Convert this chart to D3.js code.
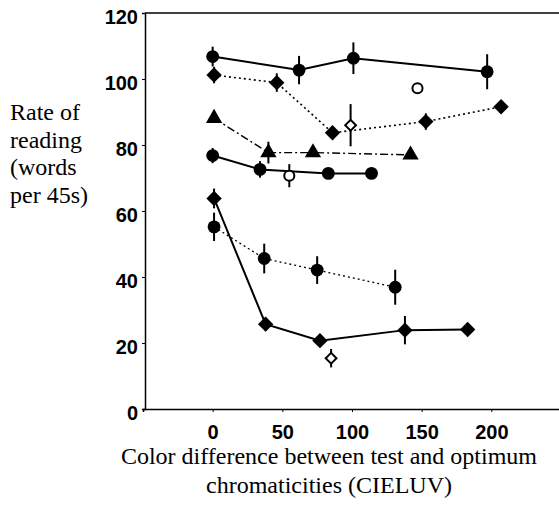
<!DOCTYPE html>
<html>
<head>
<meta charset="utf-8">
<script src="https://cdn.jsdelivr.net/npm/d3@7"></script>
<style>
  body { margin: 0; background: #fff; }
  .tick text { font-family: "Liberation Sans", Arial, sans-serif; font-weight: bold; font-size: 20px; fill: #000; }
  .title { font-family: "Liberation Serif", "Times New Roman", serif; font-size: 24px; fill: #000; }
</style>
</head>
<body>
<div id="chart"></div>
<script>
// chart size
var svgWidth = 559;
var svgHeight = 507;

// tick values
var xTicks = [0, 50, 100, 150, 200];
var yTicks = [0, 20, 40, 60, 80, 100, 120];

// series: [x, y, error]
var topCircles = [[0, 106.8, 3], [62, 102.7, 4.3], [101, 106.3, 4.8], [197, 102.2, 5.3]];
var topDiamonds = [[1, 101.2, 2.5], [46, 98.9, 2.8], [86, 83.7, 0], [153, 87.1, 2.5], [207, 91.6, 0]];
var triangles = [[1, 88.1, 0], [40, 77.7, 3.3], [72, 77.7, 0], [142, 77, 0]];
var midCircles = [[0, 76.8, 2.3], [34, 72.6, 2.5], [83, 71.4, 0], [114, 71.4, 0]];
var lowCircles = [[1, 55.2, 4.3], [37, 45.6, 4.5], [75, 42.1, 4.2], [131, 36.9, 5.3]];
var lowDiamonds = [[1, 63.8, 3], [38, 25.7, 2], [77, 20.7, 0], [138, 23.9, 4.3], [183, 24.1, 0]];

// open (unconnected) markers
var openDiamonds = [[99, 86, 6.4], [85, 15.4, 2.8]];
var openCircles = [[147, 97.2, 0], [55, 70.7, 3.5]];

var svg = d3.select("#chart")
  .append("svg")
  .attr("width", svgWidth)
  .attr("height", svgHeight);

var x = d3.scaleLinear().domain([-50, 250]).range([143, 561]);
var y = d3.scaleLinear().domain([0, 120]).range([409, 13]);

// frame (top edge)
svg.append("line")
  .attr("x1", x(-50) + 2).attr("x2", svgWidth)
  .attr("y1", y(120)).attr("y2", y(120))
  .attr("stroke", "#000").attr("stroke-width", 1.5);

// axes
var yAxis = svg.append("g")
  .attr("transform", `translate(${x(-50) + 2}, 0)`)
  .call(d3.axisLeft(y).tickValues(yTicks).tickSize(3).tickPadding(4));

var xAxis = svg.append("g")
  .attr("transform", `translate(0, ${y(0)})`)
  .call(d3.axisBottom(x).tickValues(xTicks).tickSize(3).tickPadding(13));

[xAxis, yAxis].forEach(function(a) {
  a.select(".domain").attr("stroke", "#000").attr("stroke-width", 1.5);
  a.selectAll(".tick line").attr("stroke", "#000");
});
yAxis.selectAll(".tick text").attr("dy", "0.5em");

var line = d3.line().x(d => x(d[0])).y(d => y(d[1]));

function drawErrors(data) {
  svg.append("g").selectAll("line")
    .data(data.filter(d => d[2] > 0))
    .enter()
    .append("line")
    .attr("x1", d => x(d[0])).attr("x2", d => x(d[0]))
    .attr("y1", d => y(d[1] + d[2])).attr("y2", d => y(d[1] - d[2]))
    .attr("stroke", "#000").attr("stroke-width", 2);
}

// square diamond = square rotated 45 degrees
function drawSeries(data, dash, width, symbol, size, open, rot) {
  if (dash !== null) {
    svg.append("path")
      .datum(data)
      .attr("d", line)
      .attr("fill", "none")
      .attr("stroke", "#000")
      .attr("stroke-width", width)
      .attr("stroke-dasharray", dash);
  }
  drawErrors(data);
  svg.append("g").selectAll("path")
    .data(data)
    .enter()
    .append("path")
    .attr("transform", d => `translate(${x(d[0])}, ${y(d[1])}) rotate(${rot || 0})`)
    .attr("d", d3.symbol().type(symbol).size(size))
    .attr("fill", open ? "#fff" : "#000")
    .attr("stroke", "#000")
    .attr("stroke-width", open ? 2 : 0);
}

var sq = d3.symbolSquare;

drawSeries(topCircles, "", 2, d3.symbolCircle, 130, false);
drawSeries(topDiamonds, "2,3", 1.6, sq, 118, false, 45);
drawSeries(triangles, "8,3,2,3", 1.4, d3.symbolTriangle, 115, false);
drawSeries(midCircles, "", 2, d3.symbolCircle, 130, false);
drawSeries(lowCircles, "2,3", 1.3, d3.symbolCircle, 130, false);
drawSeries(lowDiamonds, "", 2, sq, 118, false, 45);
drawSeries(openDiamonds, null, 0, sq, 58, true, 45);
drawSeries(openCircles, null, 0, d3.symbolCircle, 80, true);

// y axis title
var yTitle = ["Rate of", "reading", "(words", "per 45s)"];
svg.append("text")
  .attr("class", "title")
  .selectAll("tspan")
  .data(yTitle)
  .enter()
  .append("tspan")
  .attr("x", 10)
  .attr("y", (d, i) => 120 + i * 27.5)
  .text(d => d);

// x axis title
var xTitle = ["Color difference between test and optimum", "chromaticities (CIELUV)"];
svg.append("text")
  .attr("class", "title")
  .attr("text-anchor", "middle")
  .selectAll("tspan")
  .data(xTitle)
  .enter()
  .append("tspan")
  .attr("x", 329)
  .attr("y", (d, i) => 464 + i * 29)
  .text(d => d);
</script>
</body>
</html>
